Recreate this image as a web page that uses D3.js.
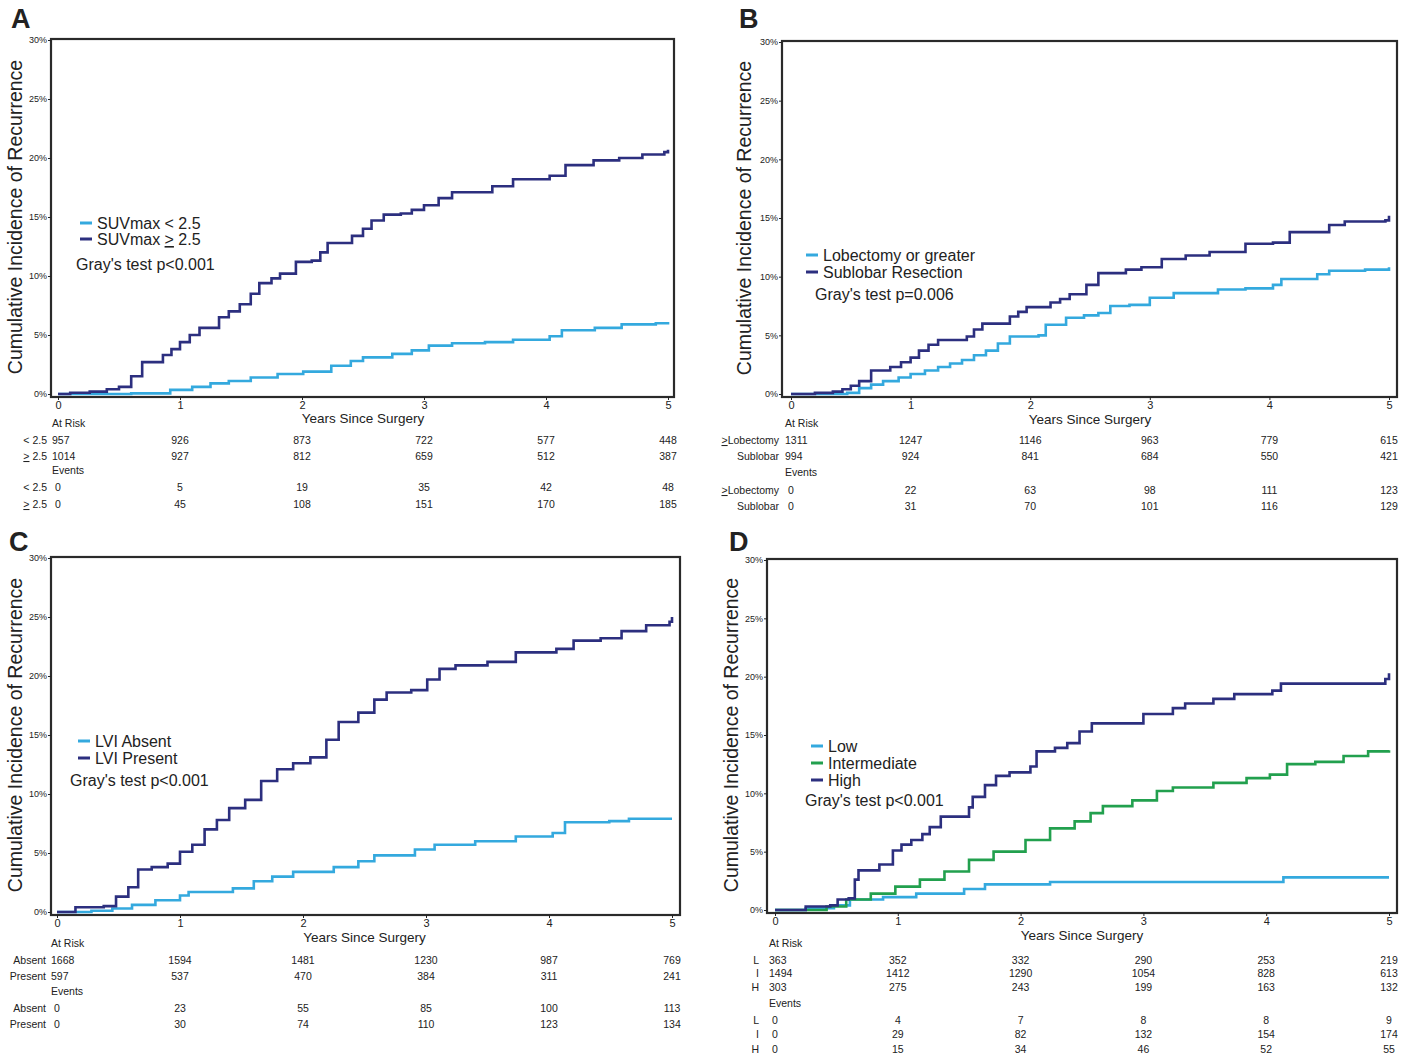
<!DOCTYPE html>
<html>
<head>
<meta charset="utf-8">
<script src="https://cdn.jsdelivr.net/npm/d3@7"></script>
<style>
body { margin: 0; background: #fff; }
text { font-family: "Liberation Sans", Arial, sans-serif; fill: #222; }
.narrow { font-family: "Liberation Sans Narrow", "Arial Narrow", "Liberation Sans", sans-serif; }
</style>
</head>
<body>
<svg id="fig" width="1413" height="1057"></svg>
<script>
// ---- data ----
var yearTicks = [0, 1, 2, 3, 4, 5];
var pctTicks = [0, 5, 10, 15, 20, 25, 30];

// cumulative incidence (%) : [years, percent]
var suvLow = [[0,0],[0.6,0.05],[0.92,0.35],[1.1,0.6],[1.25,0.9],[1.4,1.1],[1.58,1.4],[1.8,1.7],[2.01,1.9],[2.24,2.4],[2.4,2.8],[2.5,3.1],[2.74,3.4],[2.9,3.7],[3.04,4.1],[3.23,4.3],[3.5,4.4],[3.73,4.6],[4.03,4.9],[4.13,5.4],[4.4,5.6],[4.62,5.9],[4.9,6.0],[5,6.1]];
var suvHigh = [[0,0],[0.1,0.1],[0.26,0.2],[0.4,0.4],[0.5,0.6],[0.6,1.5],[0.69,2.7],[0.86,3.3],[0.93,3.8],[1.0,4.4],[1.08,5.0],[1.16,5.6],[1.32,6.5],[1.4,7.0],[1.49,7.6],[1.58,8.5],[1.65,9.4],[1.75,9.8],[1.82,10.2],[1.95,11.2],[2.08,11.3],[2.15,12.0],[2.21,12.8],[2.41,13.4],[2.5,14.0],[2.57,14.7],[2.67,15.2],[2.81,15.3],[2.9,15.6],[3.0,16.0],[3.12,16.6],[3.23,17.1],[3.56,17.6],[3.73,18.2],[4.03,18.5],[4.16,19.4],[4.39,19.8],[4.6,20.0],[4.79,20.3],[4.97,20.5],[5,20.7]];

var lobectomy = [[0,0],[0.47,0.1],[0.57,0.5],[0.67,0.8],[0.77,1.1],[0.9,1.4],[1.0,1.7],[1.12,2.0],[1.23,2.3],[1.33,2.6],[1.43,2.9],[1.53,3.3],[1.63,3.7],[1.73,4.3],[1.83,4.9],[2.07,5.0],[2.13,5.9],[2.3,6.5],[2.45,6.7],[2.57,6.9],[2.67,7.5],[2.83,7.6],[3.0,8.2],[3.2,8.6],[3.57,8.9],[3.8,9.0],[4.03,9.3],[4.1,9.8],[4.4,10.2],[4.5,10.5],[4.8,10.6],[5,10.8]];
var sublobar = [[0,0],[0.2,0.1],[0.35,0.2],[0.43,0.4],[0.5,0.7],[0.57,1.1],[0.67,2.0],[0.83,2.3],[0.92,2.7],[1.0,3.1],[1.07,3.7],[1.15,4.2],[1.23,4.6],[1.47,4.9],[1.53,5.5],[1.6,6.0],[1.83,6.6],[1.9,7.0],[1.97,7.4],[2.17,7.8],[2.25,8.1],[2.33,8.5],[2.47,9.3],[2.57,10.3],[2.8,10.6],[2.93,10.8],[3.1,11.5],[3.3,11.8],[3.5,12.1],[3.8,12.8],[4.03,12.9],[4.17,13.8],[4.5,14.4],[4.63,14.7],[4.97,14.8],[5,15.2]];

var lviAbsent = [[0,0],[0.28,0.1],[0.45,0.3],[0.61,0.6],[0.8,1.0],[1.0,1.4],[1.07,1.7],[1.43,2.0],[1.6,2.6],[1.75,3.0],[1.92,3.4],[2.25,3.8],[2.45,4.3],[2.58,4.8],[2.91,5.3],[3.07,5.7],[3.4,6.0],[3.73,6.4],[4.03,6.7],[4.13,7.6],[4.49,7.7],[4.65,7.9],[5,7.9]];
var lviPresent = [[0,0],[0.15,0.4],[0.38,0.5],[0.48,1.3],[0.58,2.1],[0.66,3.6],[0.77,3.8],[0.9,4.1],[1.0,5.1],[1.1,5.7],[1.2,7.0],[1.3,7.8],[1.4,8.8],[1.53,9.5],[1.66,11.1],[1.79,12.1],[1.92,12.6],[2.06,13.1],[2.19,14.6],[2.29,16.1],[2.45,16.9],[2.58,18.0],[2.68,18.6],[2.88,18.8],[3.01,19.7],[3.11,20.6],[3.24,20.9],[3.5,21.2],[3.73,22.0],[4.06,22.3],[4.2,23.0],[4.42,23.2],[4.59,23.8],[4.79,24.3],[4.98,24.6],[5,25.0]];

var riskLow = [[0,0],[0.25,0.15],[0.48,0.4],[0.61,0.9],[0.88,1.1],[1.15,1.4],[1.54,1.8],[1.71,2.2],[2.24,2.4],[4.14,2.8],[5,2.8]];
var riskInt = [[0,0],[0.42,0.3],[0.58,0.9],[0.78,1.4],[0.98,2.0],[1.18,2.6],[1.38,3.3],[1.58,4.3],[1.78,5.0],[2.04,6.0],[2.24,7.0],[2.44,7.6],[2.57,8.3],[2.67,8.9],[2.91,9.4],[3.11,10.2],[3.24,10.5],[3.57,10.9],[3.84,11.3],[4.03,11.6],[4.17,12.5],[4.4,12.7],[4.63,13.2],[4.83,13.6],[5,13.7]];
var riskHigh = [[0,0],[0.25,0.3],[0.45,0.4],[0.51,0.9],[0.6,1.0],[0.65,2.6],[0.68,3.4],[0.85,3.9],[0.96,5.1],[1.03,5.6],[1.11,6.0],[1.2,6.5],[1.26,7.1],[1.35,8.0],[1.58,8.8],[1.61,9.7],[1.71,10.7],[1.8,11.5],[1.91,11.8],[2.08,12.3],[2.13,13.6],[2.28,13.9],[2.38,14.3],[2.48,15.3],[2.58,16.0],[3.0,16.8],[3.24,17.3],[3.34,17.7],[3.57,18.1],[3.74,18.5],[4.05,18.8],[4.12,19.4],[4.97,19.8],[5,20.3]];

// numbers at risk / events at years 0..5
var atRiskSuvLow = [957, 926, 873, 722, 577, 448];
var atRiskSuvHigh = [1014, 927, 812, 659, 512, 387];
var eventsSuvLow = [0, 5, 19, 35, 42, 48];
var eventsSuvHigh = [0, 45, 108, 151, 170, 185];

var atRiskLobe = [1311, 1247, 1146, 963, 779, 615];
var atRiskSub = [994, 924, 841, 684, 550, 421];
var eventsLobe = [0, 22, 63, 98, 111, 123];
var eventsSub = [0, 31, 70, 101, 116, 129];

var atRiskAbsent = [1668, 1594, 1481, 1230, 987, 769];
var atRiskPresent = [597, 537, 470, 384, 311, 241];
var eventsAbsent = [0, 23, 55, 85, 100, 113];
var eventsPresent = [0, 30, 74, 110, 123, 134];

var atRiskL = [363, 352, 332, 290, 253, 219];
var atRiskI = [1494, 1412, 1290, 1054, 828, 613];
var atRiskH = [303, 275, 243, 199, 163, 132];
var eventsL = [0, 4, 7, 8, 8, 9];
var eventsI = [0, 29, 82, 132, 154, 174];
var eventsH = [0, 15, 34, 46, 52, 55];

var lightBlue = "#34a9de";
var navy = "#2c2f7f";
var green = "#22a04e";

var svg = d3.select("#fig");

// write text; "≥" is drawn as an underlined ">"
function richText(sel, str) {
    var parts = str.split("≥");
    parts.forEach(function(p, i) {
        if (i > 0) sel.append("tspan").attr("text-decoration", "underline").text(">");
        if (p.length) sel.append("tspan").text(p);
    });
}

function drawPanel(p) {
    var g = svg.append("g");
    var x = d3.scaleLinear().domain([0, 5]).range([p.x0, p.x5]);
    var y = d3.scaleLinear().domain([0, 30]).range([p.y0, p.y30]);

    g.append("text")
        .attr("x", p.letterX).attr("y", p.letterY)
        .attr("font-size", 27).attr("font-weight", "bold")
        .text(p.letter);

    // frame
    g.append("rect")
        .attr("x", p.boxL).attr("y", y(30) - 1)
        .attr("width", p.boxR - p.boxL)
        .attr("height", y(0) + 3 - (y(30) - 1))
        .attr("fill", "none").attr("stroke", "#2a2a2a").attr("stroke-width", 2.2);

    // y axis
    var yAxis = d3.axisLeft(y).tickValues(pctTicks).tickFormat(function(d) { return d + "%"; })
        .tickSize(3).tickPadding(1);
    var ya = g.append("g").attr("transform", "translate(" + p.boxL + ",0)").call(yAxis);
    ya.select(".domain").remove();
    ya.selectAll("text").attr("class", "narrow").attr("font-size", 9).attr("fill", "#222");
    ya.selectAll("line").attr("stroke", "#222");

    // x axis
    var xAxis = d3.axisBottom(x).tickValues(yearTicks).tickFormat(d3.format("d"))
        .tickSize(3).tickPadding(1);
    var xa = g.append("g").attr("transform", "translate(0," + (y(0) + 3) + ")").call(xAxis);
    xa.select(".domain").remove();
    xa.selectAll("text").attr("class", "narrow").attr("font-size", 11).attr("fill", "#222");
    xa.selectAll("line").attr("stroke", "#222");

    // axis titles
    g.append("text")
        .attr("transform", "translate(" + p.yTitleX + "," + ((y(0) + y(30)) / 2) + ") rotate(-90)")
        .attr("text-anchor", "middle").attr("font-size", 19.5)
        .text("Cumulative Incidence of Recurrence");
    g.append("text")
        .attr("x", x(2.5)).attr("y", p.xTitleY)
        .attr("text-anchor", "middle").attr("font-size", 13.5)
        .text("Years Since Surgery");

    // curves
    var line = d3.line()
        .x(function(d) { return x(d[0]); })
        .y(function(d) { return y(d[1]); })
        .curve(d3.curveStepAfter);
    p.series.forEach(function(s) {
        g.append("path")
            .datum(s.data)
            .attr("d", line)
            .attr("fill", "none")
            .attr("stroke", s.color)
            .attr("stroke-width", 2.6);
    });

    // legend
    p.series.forEach(function(s, i) {
        var ly = p.legY + i * p.legStep;
        g.append("line")
            .attr("x1", p.legX).attr("x2", p.legX + 12)
            .attr("y1", ly).attr("y2", ly)
            .attr("stroke", s.color).attr("stroke-width", 3);
        var t = g.append("text")
            .attr("x", p.legX + 17).attr("y", ly + 6)
            .attr("font-size", 16);
        richText(t, s.name);
    });
    g.append("text")
        .attr("x", p.grayX).attr("y", p.grayY)
        .attr("font-size", 16)
        .text(p.gray);

    // at-risk and events table
    var tbl = g.append("g").attr("class", "narrow").attr("font-size", 10.5);
    tbl.append("text").attr("class", "narrow").attr("x", x(0) - 6).attr("y", p.riskY).text("At Risk");
    tbl.append("text").attr("class", "narrow").attr("x", x(0) - 6).attr("y", p.eventsHeadY).text("Events");

    function row(label, vals, ry, isRisk) {
        var t = tbl.append("text").attr("class", "narrow")
            .attr("x", p.lblX).attr("y", ry).attr("text-anchor", "end");
        richText(t, label);
        vals.forEach(function(v, i) {
            var first = i === 0 && isRisk;
            tbl.append("text").attr("class", "narrow")
                .attr("x", first ? x(0) - 6 : x(yearTicks[i]))
                .attr("y", ry)
                .attr("text-anchor", first ? "start" : "middle")
                .text(v);
        });
    }
    p.table.forEach(function(r, i) {
        row(r.label, r.risk, p.riskRowsY[i], true);
        row(r.label, r.events, p.eventRowsY[i], false);
    });
}

drawPanel({
    letter: "A", letterX: 11, letterY: 28,
    x0: 58, x5: 668, y0: 394, y30: 40, boxL: 51, boxR: 674,
    yTitleX: 22, xTitleY: 423,
    legX: 80, legY: 223, legStep: 16, grayX: 76, grayY: 270,
    gray: "Gray's test p<0.001",
    series: [
        { name: "SUVmax < 2.5", color: lightBlue, data: suvLow },
        { name: "SUVmax ≥ 2.5", color: navy, data: suvHigh }
    ],
    lblX: 47, riskY: 427, eventsHeadY: 474,
    riskRowsY: [444, 460], eventRowsY: [491, 508],
    table: [
        { label: "< 2.5", risk: atRiskSuvLow, events: eventsSuvLow },
        { label: "≥ 2.5", risk: atRiskSuvHigh, events: eventsSuvHigh }
    ]
});

drawPanel({
    letter: "B", letterX: 739, letterY: 28,
    x0: 791, x5: 1389, y0: 394, y30: 42, boxL: 782, boxR: 1397,
    yTitleX: 751, xTitleY: 424,
    legX: 806, legY: 255, legStep: 17, grayX: 815, grayY: 300,
    gray: "Gray's test p=0.006",
    series: [
        { name: "Lobectomy or greater", color: lightBlue, data: lobectomy },
        { name: "Sublobar Resection", color: navy, data: sublobar }
    ],
    lblX: 779, riskY: 427, eventsHeadY: 476,
    riskRowsY: [444, 460], eventRowsY: [494, 510],
    table: [
        { label: "≥Lobectomy", risk: atRiskLobe, events: eventsLobe },
        { label: "Sublobar", risk: atRiskSub, events: eventsSub }
    ]
});

drawPanel({
    letter: "C", letterX: 9, letterY: 551,
    x0: 57, x5: 672, y0: 912, y30: 558, boxL: 51, boxR: 680,
    yTitleX: 22, xTitleY: 942,
    legX: 78, legY: 741, legStep: 17, grayX: 70, grayY: 786,
    gray: "Gray's test p<0.001",
    series: [
        { name: "LVI Absent", color: lightBlue, data: lviAbsent },
        { name: "LVI Present", color: navy, data: lviPresent }
    ],
    lblX: 46, riskY: 947, eventsHeadY: 995,
    riskRowsY: [964, 980], eventRowsY: [1012, 1028],
    table: [
        { label: "Absent", risk: atRiskAbsent, events: eventsAbsent },
        { label: "Present", risk: atRiskPresent, events: eventsPresent }
    ]
});

drawPanel({
    letter: "D", letterX: 729, letterY: 551,
    x0: 775, x5: 1389, y0: 910, y30: 560, boxL: 767, boxR: 1397,
    yTitleX: 738, xTitleY: 940,
    legX: 811, legY: 746, legStep: 17, grayX: 805, grayY: 806,
    gray: "Gray's test p<0.001",
    series: [
        { name: "Low", color: lightBlue, data: riskLow },
        { name: "Intermediate", color: green, data: riskInt },
        { name: "High", color: navy, data: riskHigh }
    ],
    lblX: 759, riskY: 947, eventsHeadY: 1007,
    riskRowsY: [964, 977, 991], eventRowsY: [1024, 1038, 1053],
    table: [
        { label: "L", risk: atRiskL, events: eventsL },
        { label: "I", risk: atRiskI, events: eventsI },
        { label: "H", risk: atRiskH, events: eventsH }
    ]
});
</script>
</body>
</html>
